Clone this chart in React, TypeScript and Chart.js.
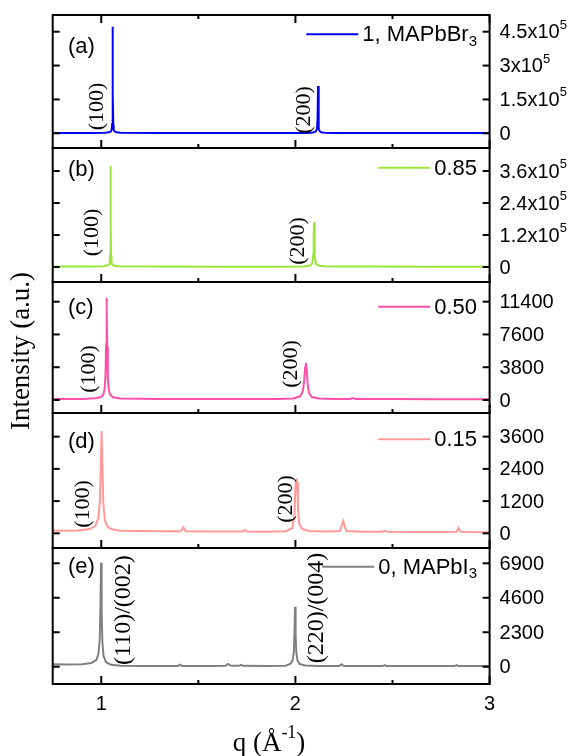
import React, { useEffect, useRef } from 'react';
import { Chart, registerables } from 'chart.js';

Chart.register(...registerables);

// ---- shared q axis ----
const Q_MIN = 0.75;
const Q_MAX = 3;
const Q_MAJOR = [1, 2, 3];
const Q_MINOR = [1.5, 2.5];
const Q_LABELS = ['1', '2', '3'];

// ---- (a) x = 1, MAPbBr3 ----
const qA = [0.75, 0.85, 0.95, 1.02, 1.04, 1.05, 1.054, 1.056, 1.0575, 1.059, 1.0605, 1.062, 1.064, 1.068, 1.078, 1.1, 1.3, 1.6, 1.9, 2.06, 2.09, 2.105, 2.111, 2.114, 2.1165, 2.1185, 2.121, 2.125, 2.133, 2.15, 2.2, 2.4, 2.7, 3.0];
const iA = [1200, 1300, 1500, 2500, 4500, 9000, 18000, 40000, 190000, 472000, 170000, 38000, 17000, 8500, 4500, 2500, 1400, 1200, 1200, 1800, 3500, 8000, 20000, 65000, 210000, 70000, 21000, 9000, 4500, 2500, 1600, 1300, 1200, 1200];
const ticksA = [0, 150000, 300000, 450000];
const tickLabelsA = ['0', '1.5x10^{5}', '3x10^{5}', '4.5x10^{5}'];

// ---- (b) x = 0.85 ----
const qB = [0.75, 0.85, 0.95, 1.01, 1.03, 1.04, 1.044, 1.046, 1.0475, 1.0485, 1.0495, 1.051, 1.053, 1.057, 1.067, 1.09, 1.3, 1.6, 1.9, 2.04, 2.07, 2.082, 2.088, 2.092, 2.094, 2.096, 2.098, 2.1, 2.104, 2.11, 2.122, 2.15, 2.2, 2.4, 2.7, 3.0];
const iB = [1500, 1600, 1800, 3000, 5500, 10000, 20000, 45000, 170000, 380000, 160000, 42000, 19000, 9500, 5000, 2800, 1600, 1400, 1400, 2200, 4500, 9000, 18000, 45000, 110000, 168000, 110000, 45000, 17000, 8500, 4500, 2500, 1800, 1500, 1400, 1400];
const ticksB = [0, 120000, 240000, 360000];
const tickLabelsB = ['0', '1.2x10^{5}', '2.4x10^{5}', '3.6x10^{5}'];

// ---- (c) x = 0.50 ----
const qC = [0.75, 0.8, 0.9, 0.97, 1.0, 1.012, 1.018, 1.022, 1.025, 1.0265, 1.028, 1.0295, 1.031, 1.034, 1.038, 1.045, 1.06, 1.1, 1.3, 1.5, 1.7, 1.9, 1.99, 2.025, 2.038, 2.045, 2.05, 2.054, 2.058, 2.063, 2.07, 2.085, 2.12, 2.2, 2.28, 2.296, 2.31, 2.5, 2.7, 2.9, 3.0];
const iC = [120, 110, 130, 200, 350, 700, 1400, 2800, 6500, 10200, 11850, 10000, 6200, 2600, 1300, 650, 320, 180, 120, 110, 110, 120, 180, 450, 1000, 2200, 3800, 4300, 3600, 1800, 800, 350, 180, 130, 120, 220, 120, 110, 100, 100, 100];
const ticksC = [0, 3800, 7600, 11400];
const tickLabelsC = ['0', '3800', '7600', '11400'];

// ---- (d) x = 0.15 ----
const qD = [0.75, 0.8, 0.88, 0.94, 0.97, 0.985, 0.993, 0.998, 1.002, 1.006, 1.011, 1.019, 1.035, 1.06, 1.1, 1.2, 1.3, 1.41, 1.422, 1.435, 1.55, 1.65, 1.73, 1.74, 1.75, 1.85, 1.95, 1.985, 1.995, 2.0, 2.003, 2.006, 2.009, 2.013, 2.02, 2.035, 2.07, 2.15, 2.23, 2.246, 2.262, 2.35, 2.45, 2.46, 2.47, 2.6, 2.75, 2.83, 2.84, 2.85, 2.95, 3.0];
const iD = [110, 100, 110, 160, 280, 550, 1200, 2600, 3810, 2500, 1100, 480, 230, 140, 100, 90, 80, 80, 230, 80, 70, 70, 70, 130, 70, 60, 80, 200, 700, 1700, 1950, 2043, 1900, 900, 350, 160, 90, 70, 90, 460, 90, 60, 60, 100, 60, 50, 50, 60, 200, 60, 40, 40];
const ticksD = [0, 1200, 2400, 3600];
const tickLabelsD = ['0', '1200', '2400', '3600'];

// ---- (e) x = 0, MAPbI3 ----
const qE = [0.75, 0.82, 0.9, 0.95, 0.975, 0.986, 0.992, 0.996, 0.999, 1.002, 1.006, 1.012, 1.025, 1.05, 1.1, 1.25, 1.395, 1.406, 1.417, 1.55, 1.64, 1.654, 1.668, 1.71, 1.72, 1.73, 1.85, 1.95, 1.975, 1.986, 1.992, 1.995, 1.998, 2.001, 2.005, 2.011, 2.022, 2.05, 2.12, 2.225, 2.237, 2.25, 2.35, 2.45, 2.46, 2.47, 2.65, 2.82, 2.83, 2.84, 2.95, 3.0];
const iE = [160, 150, 170, 250, 450, 900, 1800, 4000, 6930, 3800, 1600, 700, 300, 130, 60, 50, 50, 140, 50, 50, 60, 180, 60, 60, 130, 60, 50, 70, 200, 450, 1000, 2200, 4000, 2100, 900, 400, 180, 80, 50, 50, 160, 50, 40, 40, 110, 40, 40, 40, 110, 40, 40, 40];
const ticksE = [0, 2300, 4600, 6900];
const tickLabelsE = ['0', '2300', '4600', '6900'];

const seriesNames = ['1, MAPbBr_{3}', '0.85', '0.50', '0.15', '0, MAPbI_{3}'];
const panelTags = ['(a)', '(b)', '(c)', '(d)', '(e)'];

// reflection labels: text and the q where each label sits
const reflA = [{ t: '(100)', q: 0.978 }, { t: '(200)', q: 2.043 }];
const reflB = [{ t: '(100)', q: 0.952 }, { t: '(200)', q: 2.012 }];
const reflC = [{ t: '(100)', q: 0.937 }, { t: '(200)', q: 1.977 }];
const reflD = [{ t: '(100)', q: 0.906 }, { t: '(200)', q: 1.951 }];
const reflE = [{ t: '(110)/(002)', q: 1.117 }, { t: '(220)/(004)', q: 2.11 }];

// ---- styling / layout per panel ----
const FONT_SANS = '"Liberation Sans", Arial, sans-serif';
const FONT_SERIF = '"Liberation Serif", "Times New Roman", serif';

const PANELS = [
  { axis: 'yA', q: qA, v: iA, ticks: ticksA, labels: tickLabelsA, refl: reflA, color: '#0000ff', min: -65100, max: 524000, weight: 133, tagY: 31.7, legY: 19.3, reflLift: [26.8, 23.3], reflFont: 22 },
  { axis: 'yB', q: qB, v: iB, ticks: ticksB, labels: tickLabelsB, refl: reflB, color: '#9be53b', min: -56250, max: 446250, weight: 134, tagY: 22, legY: 19.7, reflLift: [34.5, 26], reflFont: 22 },
  { axis: 'yC', q: qC, v: iC, ticks: ticksC, labels: tickLabelsC, refl: reflC, color: '#ff4fa7', min: -1506, max: 13682, weight: 131, tagY: 26, legY: 24.7, reflLift: [31, 36], reflFont: 22 },
  { axis: 'yD', q: qD, v: iD, ticks: ticksD, labels: tickLabelsD, refl: reflD, color: '#ff9a9a', min: -546, max: 4480, weight: 135, tagY: 28.7, legY: 26.3, reflLift: [29.3, 34.3], reflFont: 22 },
  { axis: 'yE', q: qE, v: iE, ticks: ticksE, labels: tickLabelsE, refl: reflE, color: '#808080', min: -1153, max: 7920, weight: 136, tagY: 18.7, legY: 18.7, reflLift: [56.7, 58.7], reflFont: 24 },
];

type Part = { t: string; mode: 'n' | 'sup' | 'sub' };

function parseRich(s: string): Part[] {
  const out: Part[] = [];
  const re = /\^\{([^}]*)\}|_\{([^}]*)\}|([^^_]+)/g;
  let m: RegExpExecArray | null;
  while ((m = re.exec(s))) {
    if (m[1] !== undefined) out.push({ t: m[1], mode: 'sup' });
    else if (m[2] !== undefined) out.push({ t: m[2], mode: 'sub' });
    else out.push({ t: m[3], mode: 'n' });
  }
  return out;
}

const SMALL = 0.66;

function richWidth(ctx: CanvasRenderingContext2D, s: string, size: number, family: string) {
  let w = 0;
  for (const p of parseRich(s)) {
    ctx.font = `${p.mode === 'n' ? size : Math.round(size * SMALL)}px ${family}`;
    w += ctx.measureText(p.t).width;
  }
  return w;
}

// draws text with ^{..} / _{..} markup; y is the vertical middle of the main text
function drawRich(ctx: CanvasRenderingContext2D, s: string, x: number, y: number, size: number, family: string, align: 'left' | 'right' | 'center') {
  const w = richWidth(ctx, s, size, family);
  let cx = align === 'left' ? x : align === 'right' ? x - w : x - w / 2;
  ctx.textAlign = 'left';
  ctx.textBaseline = 'middle';
  for (const p of parseRich(s)) {
    const sz = p.mode === 'n' ? size : Math.round(size * SMALL);
    ctx.font = `${sz}px ${family}`;
    const dy = p.mode === 'sup' ? -size * 0.38 : p.mode === 'sub' ? size * 0.3 : 0;
    ctx.fillText(p.t, cx, y + dy);
    cx += ctx.measureText(p.t).width;
  }
}

const framePlugin = {
  id: 'panelFrames',
  afterDraw(chart: any) {
    const ctx: CanvasRenderingContext2D = chart.ctx;
    const xs = chart.scales.x;
    const { left, right } = chart.chartArea;
    const line = (x1: number, y1: number, x2: number, y2: number) => {
      ctx.beginPath();
      ctx.moveTo(x1, y1);
      ctx.lineTo(x2, y2);
      ctx.stroke();
    };
    ctx.save();
    ctx.fillStyle = '#000';
    ctx.strokeStyle = '#000';
    ctx.lineWidth = 2;

    PANELS.forEach((p, idx) => {
      const ys = chart.scales[p.axis];
      const top = ys.top;
      const bottom = ys.bottom;

      // inward ticks on both vertical borders
      p.ticks.forEach((v) => {
        const y = ys.getPixelForValue(v);
        line(left, y, left + 7, y);
        line(right - 7, y, right, y);
      });
      // q ticks on the lower border, pointing up
      Q_MAJOR.forEach((q) => {
        const x = xs.getPixelForValue(q);
        line(x, bottom, x, bottom - 8);
        if (idx === 0) line(x, top, x, top + 8);
      });
      Q_MINOR.forEach((q) => {
        const x = xs.getPixelForValue(q);
        line(x, bottom, x, bottom - 4);
        if (idx === 0) line(x, top, x, top + 4);
      });
      ctx.strokeRect(left, top, right - left, bottom - top);

      // right-hand tick labels
      p.labels.forEach((s, k) => {
        drawRich(ctx, s, right + 10, ys.getPixelForValue(p.ticks[k]) + 1, 20, FONT_SANS, 'left');
      });

      // panel tag
      drawRich(ctx, panelTags[idx], 68, top + p.tagY, 22, FONT_SANS, 'left');

      // legend entry
      const name = seriesNames[idx];
      const tw = richWidth(ctx, name, 22, FONT_SANS);
      const tx = 477 - tw;
      const ly = top + p.legY;
      ctx.save();
      ctx.strokeStyle = p.color;
      ctx.lineWidth = 2;
      line(tx - 56, ly, tx - 4, ly);
      ctx.restore();
      drawRich(ctx, name, tx, ly + 1, 22, FONT_SANS, 'left');

      // reflection labels, rotated
      const base = ys.getPixelForValue(0);
      p.refl.forEach((r, k) => {
        ctx.save();
        ctx.translate(xs.getPixelForValue(r.q), base - p.reflLift[k]);
        ctx.rotate(-Math.PI / 2);
        ctx.font = `${p.reflFont}px ${FONT_SERIF}`;
        ctx.textAlign = 'center';
        ctx.textBaseline = 'middle';
        ctx.fillText(r.t, 0, 0);
        ctx.restore();
      });
    });

    // q tick labels
    const bottomAxis = chart.scales[PANELS[PANELS.length - 1].axis].bottom;
    ctx.font = `20px ${FONT_SANS}`;
    ctx.textAlign = 'center';
    ctx.textBaseline = 'middle';
    Q_MAJOR.forEach((q, k) => ctx.fillText(Q_LABELS[k], xs.getPixelForValue(q), bottomAxis + 20));

    // axis titles
    drawRich(ctx, 'q (Å^{-1})', 269, bottomAxis + 60, 27, FONT_SERIF, 'center');
    ctx.save();
    ctx.translate(22, 351);
    ctx.rotate(-Math.PI / 2);
    drawRich(ctx, 'Intensity (a.u.)', 0, 0, 27, FONT_SERIF, 'center');
    ctx.restore();

    ctx.restore();
  },
};

export default function App() {
  const ref = useRef<HTMLCanvasElement>(null);

  useEffect(() => {
    if (!ref.current) return;
    const scales: any = {
      x: { type: 'linear', min: Q_MIN, max: Q_MAX, display: false },
    };
    PANELS.forEach((p) => {
      scales[p.axis] = {
        type: 'linear',
        position: 'right',
        stack: 'panels',
        stackWeight: p.weight,
        min: p.min,
        max: p.max,
        display: false,
      };
    });
    const chart = new Chart(ref.current, {
      type: 'line',
      data: {
        datasets: PANELS.map((p, i) => ({
          label: seriesNames[i],
          data: p.q.map((q, j) => ({ x: q, y: p.v[j] })),
          yAxisID: p.axis,
          borderColor: p.color,
          borderWidth: 2,
          pointRadius: 0,
          tension: 0,
          fill: false,
        })),
      },
      options: {
        responsive: false,
        animation: false,
        devicePixelRatio: 1,
        events: [],
        layout: { padding: { left: 52.7, right: 88.4, top: 15, bottom: 72 } },
        plugins: { legend: { display: false }, tooltip: { enabled: false } },
        scales,
      },
      plugins: [framePlugin],
    } as any);
    return () => chart.destroy();
  }, []);

  return (
    <div style={{ position: 'absolute', left: 0, top: 0, width: 578, height: 756, background: '#fff' }}>
      <canvas ref={ref} width={578} height={756} style={{ display: 'block', width: 578, height: 756 }} />
    </div>
  );
}
